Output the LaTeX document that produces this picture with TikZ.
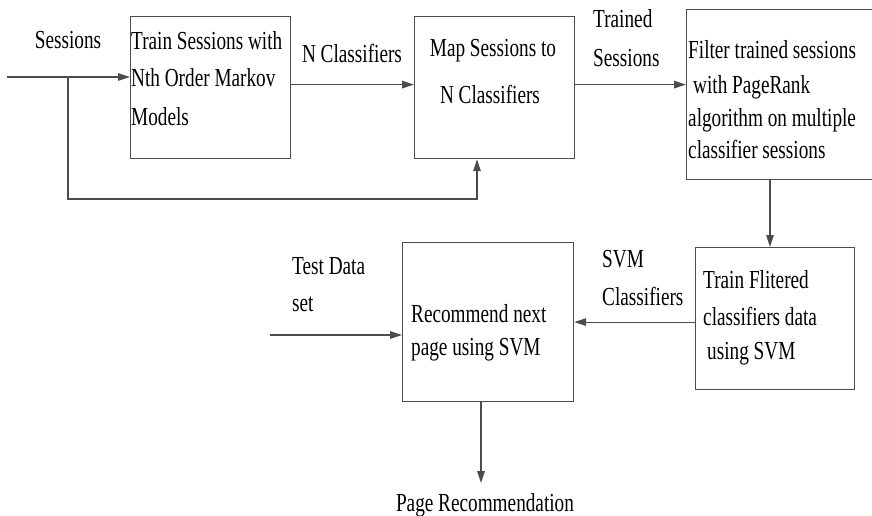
\documentclass[tikz,border=0pt]{standalone}
\usepackage{fontspec}
\usetikzlibrary{arrows.meta}
\newfontfamily\nfont[FakeStretch=0.74]{Liberation Serif}
\tikzset{
  box/.style={draw=black!70, line width=1.2pt, inner sep=0pt, anchor=north west},
  txt/.style={inner sep=0pt, anchor=base west, font=\nfont\fontsize{26}{30}\selectfont},
  txtc/.style={inner sep=0pt, anchor=base, font=\nfont\fontsize{26}{30}\selectfont},
  conn/.style={draw=black!70, line width=1.2pt},
  arr/.style={conn, -{Triangle[length=12pt,width=7.5pt]}}
}
\begin{document}
\begin{tikzpicture}[x=1pt,y=-1pt]
\useasboundingbox (0,0) rectangle (872,516);
% boxes
\node[box, minimum width=160pt, minimum height=142pt] (b1) at (130,16) {};
\node[box, minimum width=160pt, minimum height=142pt] (b2) at (414,16) {};
\node[box, minimum width=194pt, minimum height=170pt] (b3) at (686,9) {};
\node[box, minimum width=159pt, minimum height=142pt] (b4) at (695,247) {};
\node[box, minimum width=171pt, minimum height=159pt] (b5) at (402,242) {};
% box texts
\node[txt] (t1a) at (131,50) {Train Sessions with};
\node[txt] (t1b) at (131,87) {Nth Order Markov};
\node[txt] (t1c) at (131,125) {Models};
\node[txtc] (t2a) at (493,57) {Map Sessions to};
\node[txtc] (t2b) at (490,103) {N Classifiers};
\node[txt] (t3a) at (688,59) {Filter trained sessions};
\node[txt] (t3b) at (693,94) {with PageRank};
\node[txt] (t3c) at (688,127) {algorithm on multiple};
\node[txt] (t3d) at (688,158) {classifier sessions};
\node[txt] (t4a) at (703,288) {Train Flitered};
\node[txt] (t4b) at (703,325) {classifiers data};
\node[txt] (t4c) at (707,359) {using SVM};
\node[txt] (t5a) at (411,322) {Recommend next};
\node[txt] (t5b) at (411,355) {page using SVM};
% connector labels
\node[txtc] (lsess) at (68,49) {Sessions};
\node[txtc] (lncl) at (352,63) {N Classifiers};
\node[txt] (ltra) at (593,28) {Trained};
\node[txt] (ltrb) at (593,67) {Sessions};
\node[txt] (lsva) at (602,267) {SVM};
\node[txt] (lsvb) at (602,305) {Classifiers};
\node[txt] (ltda) at (292,274) {Test Data};
\node[txt] (ltdb) at (292,311) {set};
\node[txtc] (lpr) at (485,511) {Page Recommendation};
% coordinates
\coordinate (in0) at (7,77);
\coordinate (j) at (68,77);
\coordinate (fb) at (477,199);
\coordinate (tin) at (270,335);
\coordinate (pout) at (481,483);
\coordinate (v34) at (770,0);
% connectors
\draw[arr] (in0) -- (in0 -| b1.west);
\draw[arr] (j) -- (j |- fb) -- (fb) -- (fb |- b2.south);
\draw[arr] ([yshift=3pt]b1.east) -- ([yshift=3pt]b2.west);
\draw[arr] ([yshift=3pt]b2.east) -- ([yshift=3pt]b2.east -| b3.west);
\draw[arr] (v34 |- b3.south) -- (v34 |- b4.north);
\draw[arr] (b4.west |- b5.east) -- (b5.east);
\draw[arr] (tin) -- (tin -| b5.west);
\draw[arr] (pout |- b5.south) -- (pout);
\end{tikzpicture}
\end{document}
